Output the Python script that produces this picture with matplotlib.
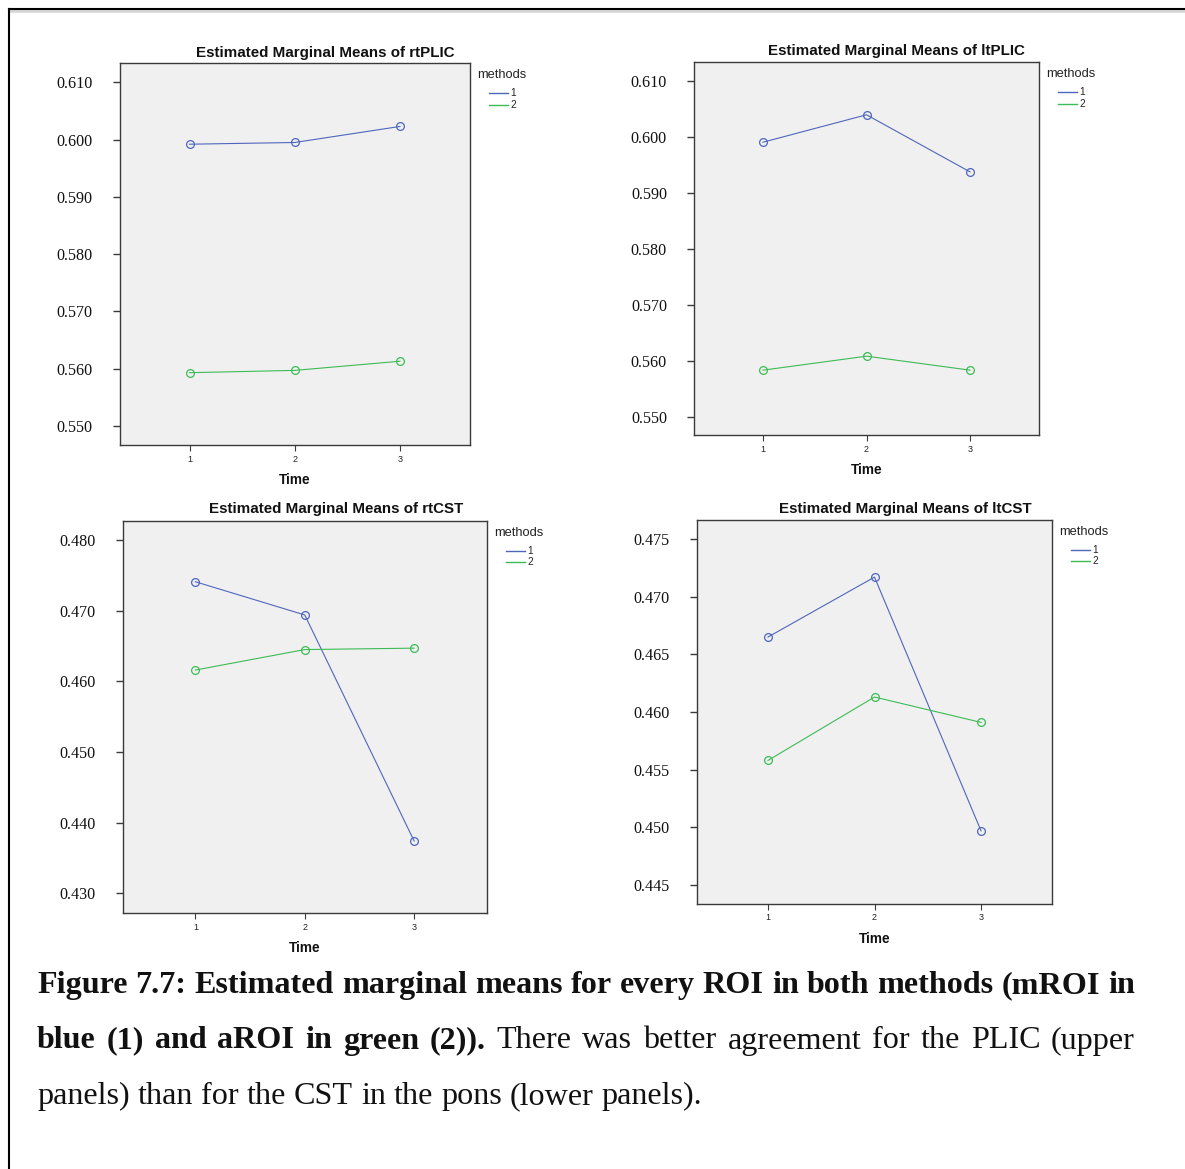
import matplotlib
matplotlib.use("Agg")
import matplotlib.pyplot as plt
from matplotlib.lines import Line2D

W, H = 1185, 1169
fig = plt.figure(figsize=(W / 100, H / 100), dpi=100)
fig.patch.set_facecolor("white")

# ---- data -------------------------------------------------------------
time_points = [1, 2, 3]
method_names = ["1", "2"]

rtplic_m1 = [0.5992, 0.5995, 0.6023]
rtplic_m2 = [0.5593, 0.5597, 0.5613]
ltplic_m1 = [0.5990, 0.6039, 0.5937]
ltplic_m2 = [0.5583, 0.5608, 0.5583]
rtcst_m1 = [0.4741, 0.4694, 0.4374]
rtcst_m2 = [0.4616, 0.4645, 0.4647]
ltcst_m1 = [0.4665, 0.4717, 0.4497]
ltcst_m2 = [0.4558, 0.4613, 0.4591]

plic_ticks = [0.550, 0.560, 0.570, 0.580, 0.590, 0.600, 0.610]
rtcst_ticks = [0.430, 0.440, 0.450, 0.460, 0.470, 0.480]
ltcst_ticks = [0.445, 0.450, 0.455, 0.460, 0.465, 0.470, 0.475]

BLUE = "#4f66bd"
GREEN = "#3dbb55"
SANS = "Liberation Sans"
SERIF = "Liberation Serif"


def fx(x):
    return x / W


def fy(y):
    return 1 - y / H


# panel spec: name, series, ticks, ylim, box (left, top, right, bottom in px), title centre
panels = [
    ("rtPLIC", rtplic_m1, rtplic_m2, plic_ticks, (0.54667, 0.61333),
     (119.5, 63.3, 470, 445), 325, 52.5),
    ("ltPLIC", ltplic_m1, ltplic_m2, plic_ticks, (0.54667, 0.61327),
     (694, 62.3, 1039, 435.3), 896, 51.5),
    ("rtCST", rtcst_m1, rtcst_m2, rtcst_ticks, (0.42717, 0.48274),
     (122.5, 520.7, 487, 913.3), 336, 509.5),
    ("ltCST", ltcst_m1, ltcst_m2, ltcst_ticks, (0.44338, 0.47665),
     (697, 520, 1052, 903.7), 905, 508.5),
]

for name, m1, m2, ticks, ylim, box, tcx, tcy in panels:
    l, t, r, b = box
    ax = fig.add_axes([fx(l), fy(b), fx(r) - fx(l), fy(t) - fy(b)])
    ax.set_facecolor("#f0f0f0")
    for s in ax.spines.values():
        s.set_color("#3a3a3a")
        s.set_linewidth(1.0)

    for vals, col in ((m1, BLUE), (m2, GREEN)):
        ax.plot(time_points, vals, color=col, lw=0.8, marker="o", ms=5.6,
                mfc="none", mec=col, mew=0.9)

    ax.set_xlim(1 - 0.666, 3 + 0.666)
    ax.set_ylim(*ylim)
    ax.set_xticks(time_points)
    ax.set_xticklabels([str(v) for v in time_points], fontsize=6.5,
                       family=SANS, color="#222222")
    ax.set_yticks(ticks)
    ax.set_yticklabels([f"{v:.3f}" for v in ticks], fontsize=11.6,
                       family=SERIF, color="#111111")
    ax.tick_params(axis="y", direction="out", length=5, width=1.0,
                   color="#3a3a3a", pad=14.5)
    ax.tick_params(axis="x", direction="out", length=4, width=0.8,
                   color="#3a3a3a", pad=3)

    # title and axis label
    fig.text(fx(tcx), fy(tcy), f"Estimated Marginal Means of {name}",
             ha="center", va="center", fontsize=10.9, fontweight="bold",
             family=SANS, color="#111111")
    fig.text(fx((l + r) / 2), fy(b + 35), "Time", ha="center", va="center",
             fontsize=9.8, fontweight="bold", family=SANS, color="#111111")

    # legend
    fig.text(fx(r + 7), fy(t + 12), "methods", ha="left", va="center",
             fontsize=9.3, family=SANS, color="#222222")
    for k, (lab, col) in enumerate(zip(method_names, (BLUE, GREEN))):
        yy = t + 30 + 11.3 * k
        fig.add_artist(Line2D([fx(r + 19), fx(r + 38)], [fy(yy), fy(yy)],
                              color=col, lw=1.0, transform=fig.transFigure))
        fig.text(fx(r + 40.5), fy(yy), lab, ha="left", va="center",
                 fontsize=7.3, family=SANS, color="#222222")

# ---- page frame -------------------------------------------------------
fig.add_artist(Line2D([fx(9), fx(W)], [fy(11), fy(11)], color="#d8d8d8",
                      lw=2.0, transform=fig.transFigure))
fig.add_artist(Line2D([fx(9), fx(W)], [fy(9), fy(9)], color="black",
                      lw=1.5, transform=fig.transFigure))
fig.add_artist(Line2D([fx(9), fx(9)], [fy(9), fy(H)], color="black",
                      lw=1.5, transform=fig.transFigure))

# ---- caption (justified lines) ---------------------------------------
CAP_SIZE = 23.1
LEFT, RIGHT = 37, 1135
caption_lines = [
    ([("Figure 7.7: Estimated marginal means for every ROI in both methods (mROI in", True)], 993, True),
    ([("blue (1) and aROI in green (2)).", True),
      ("There was better agreement for the PLIC (upper", False)], 1048.5, True),
    ([("panels) than for the CST in the pons (lower panels).", False)], 1104, False),
]

renderer = fig.canvas.get_renderer()
for segments, base_y, justify in caption_lines:
    words = []
    for text, bold in segments:
        for w in text.split(" "):
            words.append((w, bold))
    objs = []
    for w, bold in words:
        tobj = fig.text(0, fy(base_y), w, ha="left", va="baseline",
                        fontsize=CAP_SIZE, family=SERIF,
                        fontweight="bold" if bold else "normal",
                        color="#111111")
        objs.append(tobj)
    widths = [o.get_window_extent(renderer).width for o in objs]
    if justify:
        gap = (RIGHT - LEFT - sum(widths)) / (len(objs) - 1)
    else:
        sp = fig.text(0, 0, "a a", fontsize=CAP_SIZE, family=SERIF)
        sa = fig.text(0, 0, "aa", fontsize=CAP_SIZE, family=SERIF)
        gap = (sp.get_window_extent(renderer).width
               - sa.get_window_extent(renderer).width)
        sp.remove()
        sa.remove()
    x = LEFT
    for o, wd in zip(objs, widths):
        o.set_x(fx(x))
        x += wd + gap

fig.savefig("out.png", dpi=100, facecolor="white")
